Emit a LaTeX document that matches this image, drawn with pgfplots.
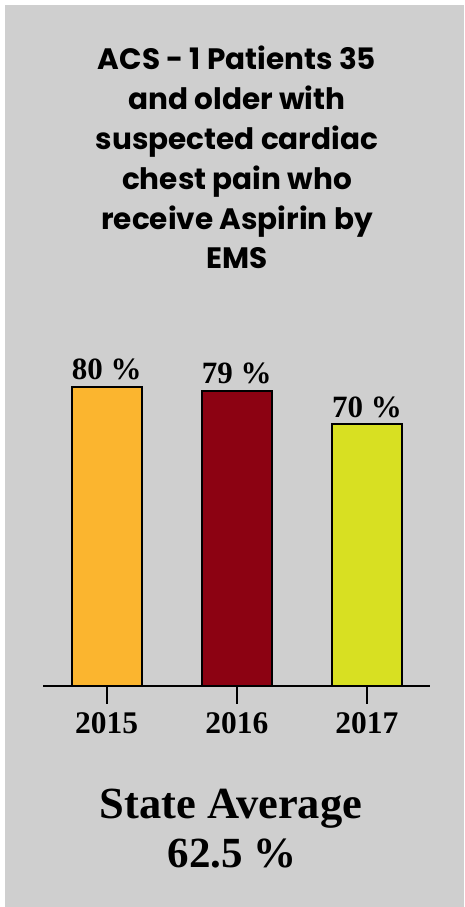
\documentclass[border=0pt]{standalone}
\usepackage{fontspec}
\setmainfont{Liberation Serif}
\newfontfamily\titlefont{Poppins}
\usepackage{pgfplots}
\pgfplotsset{compat=1.18}
\definecolor{bggray}{HTML}{CFCFCF}
\definecolor{barA}{HTML}{FBB52F}
\definecolor{barB}{HTML}{8C0212}
\definecolor{barC}{HTML}{D8E022}
\begin{document}
\begin{tikzpicture}[x=1pt,y=1pt]
\fill[white] (0,0) rectangle (464,907);
\fill[bggray] (5,0) rectangle (464,902);
% title
\begin{scope}[every node/.style={anchor=base,inner sep=0pt,font=\titlefont\bfseries\fontsize{29.5}{30}\selectfont}]
\node at (237,837) {ACS - 1 Patients 35};
\node at (237,797) {and older with};
\node at (237,757) {suspected cardiac};
\node at (237,717) {chest pain who};
\node at (237,677) {receive Aspirin by};
\node at (237,638) {EMS};
\end{scope}
\begin{axis}[
  at={(43pt,221pt)}, anchor=south west,
  scale only axis, width=387pt, height=299pt,
  xmin=-0.49, xmax=2.485, ymin=0, ymax=80,
  axis x line*=bottom, axis y line=none,
  axis line style={line width=2pt,black},
  xtick={0,1,2}, xticklabels={2015,2016,2017},
  major tick length=17pt, tick align=outside,
  xtick style={line width=2pt,black,yshift=-1pt},
  xticklabel style={font=\bfseries\fontsize{31.5}{31.5}\selectfont, anchor=base, yshift=-31pt, inner sep=0pt},
  ybar, bar width=70pt, bar shift=0pt,
  clip=false,
  /pgf/number format/assume math mode=true,
  nodes near coords={\pgfmathprintnumber{\pgfplotspointmeta}~\%},
  every node near coord/.append style={font=\bfseries\fontsize{31}{31}\selectfont, anchor=base, yshift=7pt, inner sep=0pt, black},
]
\addplot[fill=barA, draw=black, line width=2pt] coordinates {(0,80)};
\addplot[fill=barB, draw=black, line width=2pt] coordinates {(1,79)};
\addplot[fill=barC, draw=black, line width=2pt] coordinates {(2,70)};
\end{axis}
\node[anchor=base,inner sep=0pt,font=\bfseries\fontsize{44.5}{44.5}\selectfont] at (231,88) {State Average};
\node[anchor=base,inner sep=0pt,font=\bfseries\fontsize{43}{43}\selectfont] at (232,39) {62.5 \%};
\end{tikzpicture}
\end{document}
